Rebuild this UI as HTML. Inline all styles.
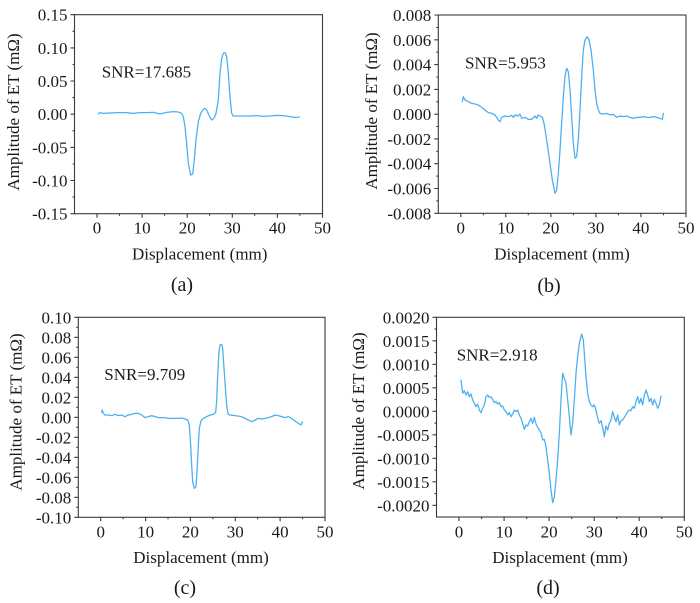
<!DOCTYPE html>
<html>
<head>
<meta charset="utf-8">
<style>
html,body{margin:0;padding:0;background:#fff;}
svg{display:block;}
svg text{font-family:"Liberation Serif","DejaVu Serif",serif !important;font-size:17px;fill:#1a1a1a;}
.yl{text-anchor:end;}
.xl{text-anchor:middle;}
.frame{fill:none;stroke:#3a3a3a;stroke-width:1.1;}
.tk{fill:none;stroke:#3a3a3a;stroke-width:1.1;}
.crv{fill:none;stroke:#4ab0ef;stroke-width:3.8;stroke-linejoin:round;stroke-linecap:round;}
svg text.pl{font-size:20px;text-anchor:middle;}
</style>
</head>
<body>
<svg width="700" height="603" viewBox="0 0 700 603" xmlns="http://www.w3.org/2000/svg" font-family="Liberation Serif, serif" style="font-family:'Liberation Serif',serif">
<rect width="700" height="603" fill="#fff"/>

<!-- ================= Panel A ================= -->
<rect class="frame" x="74.5" y="14.7" width="248" height="199"/>
<path class="tk" d="M70.5 14.7H74.5M70.5 47.9H74.5M70.5 81H74.5M70.5 114.2H74.5M70.5 147.4H74.5M70.5 180.5H74.5M70.5 213.7H74.5
M72.5 31.3H74.5M72.5 64.5H74.5M72.5 97.6H74.5M72.5 130.8H74.5M72.5 164H74.5M72.5 197.1H74.5
M97 213.7V217.7M142.1 213.7V217.7M187.2 213.7V217.7M232.3 213.7V217.7M277.4 213.7V217.7M322.5 213.7V217.7
M119.5 213.7V215.7M164.6 213.7V215.7M209.6 213.7V215.7M254.7 213.7V215.7M299.8 213.7V215.7"/>
<text class="yl" x="67.5" y="20.7">0.15</text>
<text class="yl" x="67.5" y="53.9">0.10</text>
<text class="yl" x="67.5" y="87">0.05</text>
<text class="yl" x="67.5" y="120.2">0.00</text>
<text class="yl" x="67.5" y="153.4">-0.05</text>
<text class="yl" x="67.5" y="186.5">-0.10</text>
<text class="yl" x="67.5" y="219.7">-0.15</text>
<text class="xl" x="97" y="233.5">0</text>
<text class="xl" x="142.1" y="233.5">10</text>
<text class="xl" x="187.2" y="233.5">20</text>
<text class="xl" x="232.3" y="233.5">30</text>
<text class="xl" x="277.4" y="233.5">40</text>
<text class="xl" x="322.5" y="233.5">50</text>
<text class="xl" x="199.7" y="259.5">Displacement (mm)</text>
<text class="xl" transform="translate(19,112) rotate(-90)" x="0" y="0">Amplitude of ET (mΩ)</text>
<text x="101.7" y="77.3">SNR=17.685</text>
<text class="pl" x="182" y="291">(a)</text>
<g transform="scale(0.33333)">
<polyline class="crv" points="295,342 298,338 310,340 330,339 350,338 380,338 400,340 420,338 440,338 460,337 480,342 500,337 520,335 535,336 545,340 550,350 555,380 560,430 565,490 572,525 578,522 583,480 588,420 595,365 602,340 610,328 615,325 620,330 628,348 635,360 642,355 648,340 655,300 660,220 665,175 670,160 675,158 680,170 685,220 690,290 695,340 700,348 710,348 730,348 750,348 770,347 790,349 810,348 830,346 850,347 870,350 890,353 898,350"/>
</g>

<!-- ================= Panel B ================= -->
<rect class="frame" x="438.3" y="15" width="247.7" height="198.3"/>
<path class="tk" d="M434.3 15H438.3M434.3 39.8H438.3M434.3 64.6H438.3M434.3 89.4H438.3M434.3 114.2H438.3M434.3 138.9H438.3M434.3 163.7H438.3M434.3 188.5H438.3M434.3 213.3H438.3
M436.3 27.4H438.3M436.3 52.2H438.3M436.3 77H438.3M436.3 101.8H438.3M436.3 126.5H438.3M436.3 151.3H438.3M436.3 176.1H438.3M436.3 200.9H438.3
M460.8 213.3V217.3M505.8 213.3V217.3M550.9 213.3V217.3M595.9 213.3V217.3M640.9 213.3V217.3M686 213.3V217.3
M483.3 213.3V215.3M528.3 213.3V215.3M573.4 213.3V215.3M618.4 213.3V215.3M663.5 213.3V215.3"/>
<text class="yl" x="431.3" y="21">0.008</text>
<text class="yl" x="431.3" y="45.8">0.006</text>
<text class="yl" x="431.3" y="70.6">0.004</text>
<text class="yl" x="431.3" y="95.4">0.002</text>
<text class="yl" x="431.3" y="120.2">0.000</text>
<text class="yl" x="431.3" y="144.9">-0.002</text>
<text class="yl" x="431.3" y="169.7">-0.004</text>
<text class="yl" x="431.3" y="194.5">-0.006</text>
<text class="yl" x="431.3" y="219.3">-0.008</text>
<text class="xl" x="460.8" y="233.5">0</text>
<text class="xl" x="505.8" y="233.5">10</text>
<text class="xl" x="550.9" y="233.5">20</text>
<text class="xl" x="595.9" y="233.5">30</text>
<text class="xl" x="640.9" y="233.5">40</text>
<text class="xl" x="686" y="233.5">50</text>
<text class="xl" x="562" y="259.5">Displacement (mm)</text>
<text class="xl" transform="translate(377,111) rotate(-90)" x="0" y="0">Amplitude of ET (mΩ)</text>
<text x="465" y="68.3">SNR=5.953</text>
<text class="pl" x="549" y="292">(b)</text>
<g transform="translate(455,30) scale(0.33333)">
<polyline class="crv" points="22,215 25,200 30,210 40,215 50,220 60,222 70,225 80,232 90,240 100,248 110,250 120,255 125,262 130,270 135,275 140,262 150,258 160,260 170,256 175,262 180,255 190,258 195,252 200,265 210,262 220,268 230,268 240,258 245,265 250,255 255,258 262,262 267,280 272,310 278,350 285,400 292,450 300,490 305,480 310,430 315,360 320,280 325,200 330,140 335,115 340,125 345,180 350,260 355,340 360,385 365,380 370,330 375,240 380,140 385,60 390,30 397,20 402,30 408,60 415,120 420,180 425,220 430,240 435,250 445,252 455,250 465,255 475,253 485,262 495,258 505,260 515,258 525,262 535,265 545,262 555,262 565,260 575,262 585,262 595,260 605,262 615,265 622,268 625,250"/>
</g>

<!-- ================= Panel C ================= -->
<rect class="frame" x="78.3" y="317.3" width="246.7" height="200"/>
<path class="tk" d="M74.3 317.3H78.3M74.3 337.3H78.3M74.3 357.3H78.3M74.3 377.3H78.3M74.3 397.3H78.3M74.3 417.3H78.3M74.3 437.3H78.3M74.3 457.3H78.3M74.3 477.3H78.3M74.3 497.3H78.3M74.3 517.3H78.3
M76.3 327.3H78.3M76.3 347.3H78.3M76.3 367.3H78.3M76.3 387.3H78.3M76.3 407.3H78.3M76.3 427.3H78.3M76.3 447.3H78.3M76.3 467.3H78.3M76.3 487.3H78.3M76.3 507.3H78.3
M100.7 517.3V521.3M145.6 517.3V521.3M190.4 517.3V521.3M235.3 517.3V521.3M280.1 517.3V521.3M325 517.3V521.3
M123.1 517.3V519.3M168 517.3V519.3M212.9 517.3V519.3M257.7 517.3V519.3M302.6 517.3V519.3"/>
<text class="yl" x="71.3" y="323.3">0.10</text>
<text class="yl" x="71.3" y="343.3">0.08</text>
<text class="yl" x="71.3" y="363.3">0.06</text>
<text class="yl" x="71.3" y="383.3">0.04</text>
<text class="yl" x="71.3" y="403.3">0.02</text>
<text class="yl" x="71.3" y="423.3">0.00</text>
<text class="yl" x="71.3" y="443.3">-0.02</text>
<text class="yl" x="71.3" y="463.3">-0.04</text>
<text class="yl" x="71.3" y="483.3">-0.06</text>
<text class="yl" x="71.3" y="503.3">-0.08</text>
<text class="yl" x="71.3" y="523.3">-0.10</text>
<text class="xl" x="100.7" y="537.5">0</text>
<text class="xl" x="145.6" y="537.5">10</text>
<text class="xl" x="190.4" y="537.5">20</text>
<text class="xl" x="235.3" y="537.5">30</text>
<text class="xl" x="280.1" y="537.5">40</text>
<text class="xl" x="325" y="537.5">50</text>
<text class="xl" x="201" y="563">Displacement (mm)</text>
<text class="xl" transform="translate(21.5,412) rotate(-90)" x="0" y="0">Amplitude of ET (mΩ)</text>
<text x="104.3" y="380">SNR=9.709</text>
<text class="pl" x="185" y="594">(c)</text>
<g transform="translate(95,325) scale(0.33333)">
<polyline class="crv" points="20,262 22,255 25,265 30,270 40,270 50,272 60,268 70,272 80,270 90,275 100,270 110,268 120,265 130,265 140,270 150,278 160,275 170,272 180,275 190,278 200,278 210,278 220,280 230,280 240,280 250,280 260,279 270,282 278,285 283,300 287,360 290,420 293,470 298,490 303,485 306,440 310,360 313,310 318,287 325,280 335,275 345,270 355,268 362,262 365,230 368,150 372,80 375,60 380,58 383,70 387,130 392,200 396,250 400,268 405,270 420,272 440,275 460,285 470,290 480,285 490,280 500,282 510,280 520,278 530,275 540,270 550,272 560,275 570,278 580,275 590,280 600,288 610,295 618,300 622,290"/>
</g>

<!-- ================= Panel D ================= -->
<rect class="frame" x="436.5" y="317.3" width="247.8" height="199.7"/>
<path class="tk" d="M432.5 317.3H436.5M432.5 340.8H436.5M432.5 364.3H436.5M432.5 387.8H436.5M432.5 411.3H436.5M432.5 434.8H436.5M432.5 458.3H436.5M432.5 481.8H436.5M432.5 505.3H436.5
M434.5 329.1H436.5M434.5 352.6H436.5M434.5 376.1H436.5M434.5 399.6H436.5M434.5 423.1H436.5M434.5 446.6H436.5M434.5 470.1H436.5M434.5 493.6H436.5
M459 517V521M504.1 517V521M549.1 517V521M594.2 517V521M639.2 517V521M684.3 517V521
M481.6 517V519M526.6 517V519M571.7 517V519M616.7 517V519M661.8 517V519"/>
<text class="yl" x="429.5" y="323.3">0.0020</text>
<text class="yl" x="429.5" y="346.8">0.0015</text>
<text class="yl" x="429.5" y="370.3">0.0010</text>
<text class="yl" x="429.5" y="393.8">0.0005</text>
<text class="yl" x="429.5" y="417.3">0.0000</text>
<text class="yl" x="429.5" y="440.8">-0.0005</text>
<text class="yl" x="429.5" y="464.3">-0.0010</text>
<text class="yl" x="429.5" y="487.8">-0.0015</text>
<text class="yl" x="429.5" y="511.3">-0.0020</text>
<text class="xl" x="459" y="537.5">0</text>
<text class="xl" x="504.1" y="537.5">10</text>
<text class="xl" x="549.1" y="537.5">20</text>
<text class="xl" x="594.2" y="537.5">30</text>
<text class="xl" x="639.2" y="537.5">40</text>
<text class="xl" x="684.3" y="537.5">50</text>
<text class="xl" x="560" y="563">Displacement (mm)</text>
<text class="xl" transform="translate(364,411) rotate(-90)" x="0" y="0">Amplitude of ET (mΩ)</text>
<text x="456.7" y="360.7">SNR=2.918</text>
<text class="pl" x="548" y="594">(d)</text>
<g transform="translate(436,340) scale(0.33333)">
<polyline class="crv" points="75,120 80,160 85,152 90,165 95,155 100,170 105,162 110,180 115,190 120,200 125,192 130,210 135,218 140,205 145,195 150,170 155,165 160,172 165,170 170,178 175,188 180,185 185,192 190,188 195,200 200,198 205,210 210,215 215,225 220,218 225,230 230,222 235,210 240,215 245,210 250,225 255,235 260,250 265,268 270,255 275,258 280,245 285,235 290,250 295,232 300,252 305,262 310,270 315,278 320,300 325,298 330,320 335,360 340,400 345,450 350,488 355,470 360,420 365,360 370,280 375,180 380,100 385,115 390,130 395,180 400,230 405,285 410,250 415,180 420,100 425,50 430,10 437,-18 442,0 445,40 450,110 455,160 460,185 465,195 470,200 475,195 480,210 485,235 490,250 495,242 500,262 505,290 510,258 515,270 520,250 525,240 530,215 535,232 540,245 545,225 550,255 555,242 560,240 565,232 570,225 575,215 580,210 585,212 590,200 595,205 600,185 605,170 610,190 615,175 620,195 625,165 630,150 635,165 640,185 645,175 650,195 655,178 660,190 665,205 670,195 675,168"/>
</g>
</svg>
</body>
</html>
